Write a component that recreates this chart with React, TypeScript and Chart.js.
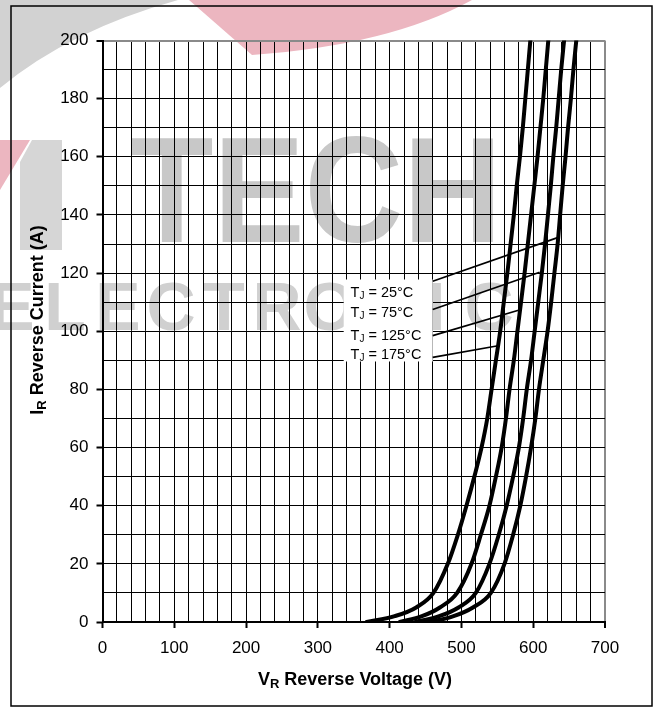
import React, { useEffect, useRef } from 'react';
import { Chart, registerables } from 'chart.js';

Chart.register(...registerables);

// Reverse current levels (A) at which the curves were read
const currentLevels = [0, 2, 5, 10, 20, 30, 40, 50, 60, 70, 80, 90, 100, 110, 120, 130, 140, 150, 160, 170, 180, 190, 200];
// Reverse voltage (V) for each junction temperature
const voltage175 = [368, 407, 437, 461, 481, 495, 507, 518, 528, 536, 542, 548, 554, 559, 564, 568.5, 573, 577, 581.5, 585.5, 589, 592.5, 596];
const voltage125 = [414, 445, 470, 494, 514, 527, 539, 548, 556, 562, 567, 573, 578, 583, 588, 592.5, 597, 601.5, 606, 610, 614, 617.5, 621];
const voltage75 = [436, 469, 496, 520, 539, 552, 563, 572, 580, 586, 591, 597, 602, 607, 612, 616.5, 620.5, 624.5, 628, 632, 635.5, 639, 643];
const voltage25 = [456, 489, 516, 541, 560, 572, 582, 590, 597, 603, 608, 614, 620, 625, 629.5, 634, 637.5, 641, 645, 648.5, 652.5, 656, 660];

// Annotation labels (top to bottom) and their temperatures
const labelTemps = ['25°C', '75°C', '125°C', '175°C'];
const labelRowCurrent = [113.2, 106.3, 98.3, 91.8];
const labelTextVoltage = 345.5;
const labelBoxVoltage = [336, 460];
const labelBoxCurrent = [89.6, 117.8];
// Leader lines: start (at the label box) and end (on the curve)
const leaderStartV = [460, 460, 460, 460];
const leaderStartI = [117.2, 107.5, 98.5, 91];
const leaderEndV = [634, 609, 583, 551];
const leaderEndI = [132.2, 120.3, 107.5, 95];

const xMin = 0, xMax = 700, xMinorStep = 20, xMajorStep = 100;
const yMin = 0, yMax = 200, yMinorStep = 10, yMajorStep = 20;

const FONT = "'Liberation Sans', Arial, Helvetica, sans-serif";

type Part = { t: string; sub?: boolean };

function drawRich(ctx: CanvasRenderingContext2D, parts: Part[], x: number, y: number, size: number, bold: boolean, align: 'left' | 'center') {
  const w = bold ? 'bold ' : '';
  const widths = parts.map((p) => {
    ctx.font = `${w}${p.sub ? Math.round(size * 0.72) : size}px ${FONT}`;
    return ctx.measureText(p.t).width;
  });
  const total = widths.reduce((a, b) => a + b, 0);
  let cx = align === 'center' ? x - total / 2 : x;
  ctx.textAlign = 'left';
  ctx.textBaseline = 'middle';
  parts.forEach((p, i) => {
    ctx.font = `${w}${p.sub ? Math.round(size * 0.72) : size}px ${FONT}`;
    ctx.fillText(p.t, cx, p.sub ? y + size * 0.22 : y);
    cx += widths[i];
  });
}

const decorPlugin = {
  id: 'decor',
  beforeDraw(chart: any) {
    const ctx: CanvasRenderingContext2D = chart.ctx;
    ctx.save();
    // watermark shapes
    ctx.fillStyle = '#d2d2d2';
    ctx.beginPath();
    ctx.moveTo(0, 0);
    ctx.lineTo(178, 0);
    ctx.quadraticCurveTo(70, 30, 0, 88);
    ctx.closePath();
    ctx.fill();
    ctx.fillStyle = '#d6d6d6';
    ctx.beginPath();
    ctx.moveTo(32, 140);
    ctx.lineTo(62, 140);
    ctx.lineTo(62, 250);
    ctx.lineTo(20, 250);
    ctx.lineTo(20, 162);
    ctx.closePath();
    ctx.fill();
    ctx.fillStyle = '#ecb6c0';
    ctx.beginPath();
    ctx.moveTo(189, 0);
    ctx.lineTo(472, 0);
    ctx.quadraticCurveTo(390, 45, 252, 55);
    ctx.closePath();
    ctx.fill();
    ctx.beginPath();
    ctx.moveTo(0, 140);
    ctx.lineTo(30, 140);
    ctx.lineTo(0, 190);
    ctx.closePath();
    ctx.fill();
    // big watermark text
    ctx.fillStyle = '#c8c8c8';
    ctx.font = `bold 151px ${FONT}`;
    ctx.textAlign = 'left';
    ctx.textBaseline = 'alphabetic';
    const tw = ctx.measureText('TECH').width;
    ctx.save();
    ctx.translate(130, 242);
    ctx.scale(372 / tw, 1);
    ctx.fillText('TECH', 0, 0);
    ctx.restore();
    ctx.fillStyle = '#d0d0d0';
    ctx.font = `bold 68px ${FONT}`;
    ctx.textAlign = 'center';
    const word = 'ELECTRONIC';
    for (let i = 0; i < word.length; i++) {
      ctx.fillText(word[i], 12 + i * 53, 330);
    }
    // outer frame
    ctx.strokeStyle = '#000';
    ctx.lineWidth = 1.5;
    ctx.strokeRect(11, 6, 641, 700);
    ctx.restore();
  },
  beforeDatasetsDraw(chart: any) {
    const ctx: CanvasRenderingContext2D = chart.ctx;
    const xs = chart.scales.x, ys = chart.scales.y;
    ctx.save();
    const x0 = xs.getPixelForValue(labelBoxVoltage[0]);
    const x1 = xs.getPixelForValue(labelBoxVoltage[1]);
    const y0 = ys.getPixelForValue(labelBoxCurrent[1]);
    const y1 = ys.getPixelForValue(labelBoxCurrent[0]);
    ctx.fillStyle = '#fff';
    ctx.fillRect(x0, y0, x1 - x0, y1 - y0);
    ctx.fillStyle = '#000';
    labelTemps.forEach((t, i) => {
      drawRich(ctx, [{ t: 'T' }, { t: 'J', sub: true }, { t: ' = ' + t }],
        xs.getPixelForValue(labelTextVoltage), ys.getPixelForValue(labelRowCurrent[i]), 14.5, false, 'left');
    });
    ctx.restore();
  },
  afterDraw(chart: any) {
    const ctx: CanvasRenderingContext2D = chart.ctx;
    ctx.save();
    ctx.fillStyle = '#000';
    drawRich(ctx, [{ t: 'V' }, { t: 'R', sub: true }, { t: ' Reverse Voltage (V)' }], 355, 680, 18, true, 'center');
    ctx.translate(38.5, 320);
    ctx.rotate(-Math.PI / 2);
    drawRich(ctx, [{ t: 'I' }, { t: 'R', sub: true }, { t: ' Reverse Current (A)' }], 0, 0, 18, true, 'center');
    ctx.restore();
  },
};

export default function App() {
  const ref = useRef<HTMLCanvasElement>(null);
  useEffect(() => {
    const curves = [voltage175, voltage125, voltage75, voltage25].map((v) => ({
      type: 'line' as const,
      data: currentLevels.map((c, i) => ({ x: v[i], y: c })),
      borderColor: '#000',
      borderWidth: 4,
      pointRadius: 0,
      fill: false,
      cubicInterpolationMode: 'monotone' as const,
      borderCapStyle: 'round' as const,
    }));
    const leaders = leaderStartV.map((v, i) => ({
      type: 'line' as const,
      data: [{ x: v, y: leaderStartI[i] }, { x: leaderEndV[i], y: leaderEndI[i] }],
      borderColor: '#000',
      borderWidth: 1.7,
      pointRadius: 0,
      fill: false,
    }));
    const tickFont = { family: FONT, size: 17 };
    const chart = new Chart(ref.current!, {
      type: 'line',
      data: { datasets: [...curves, ...leaders] as any },
      plugins: [decorPlugin],
      options: {
        animation: false,
        responsive: false,
        devicePixelRatio: 1,
        layout: { padding: { left: 0, right: 52, top: 40.5, bottom: 0 } },
        plugins: { legend: { display: false }, tooltip: { enabled: false } },
        scales: {
          x: {
            type: 'linear',
            min: xMin,
            max: xMax,
            afterFit: (s: any) => { s.height = 86; },
            ticks: {
              stepSize: xMinorStep,
              autoSkip: false,
              maxRotation: 0,
              padding: 10,
              color: '#000',
              font: tickFont,
              callback: (v: any) => (v % xMajorStep === 0 ? String(v) : ''),
            },
            grid: {
              color: (c: any) => (c.tick && c.tick.value === xMax ? '#8a8a8a' : '#000'),
              lineWidth: (c: any) => (c.tick && c.tick.value === xMax ? 2 : 1),
              tickColor: (c: any) => (c.tick && c.tick.value % xMajorStep === 0 ? '#000' : 'rgba(0,0,0,0)'),
              tickLength: 6,
              tickWidth: 2,
            },
            border: { color: '#000', width: 2 },
          },
          y: {
            type: 'linear',
            min: yMin,
            max: yMax,
            afterFit: (s: any) => { s.width = 102.5; },
            ticks: {
              stepSize: yMinorStep,
              autoSkip: false,
              padding: 8,
              color: '#000',
              font: tickFont,
              callback: (v: any) => (v % yMajorStep === 0 ? String(v) : ''),
            },
            grid: {
              color: (c: any) => (c.tick && c.tick.value === yMax ? '#8a8a8a' : '#000'),
              lineWidth: (c: any) => (c.tick && c.tick.value === yMax ? 2 : 1),
              tickColor: (c: any) => (c.tick && c.tick.value % yMajorStep === 0 ? '#000' : 'rgba(0,0,0,0)'),
              tickLength: 6,
              tickWidth: 2,
            },
            border: { color: '#000', width: 2 },
          },
        },
      },
    });
    return () => chart.destroy();
  }, []);
  return (
    <div style={{ position: 'fixed', left: 0, top: 0, width: 657, height: 708, background: '#fff' }}>
      <canvas ref={ref} width={657} height={708} style={{ width: 657, height: 708, display: 'block' }} />
    </div>
  );
}
